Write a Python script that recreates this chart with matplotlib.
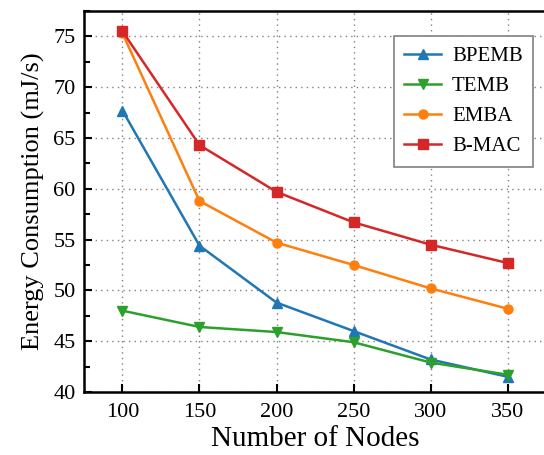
import numpy as np
import matplotlib
matplotlib.use("Agg")
import matplotlib.pyplot as plt
from matplotlib.ticker import MultipleLocator

plt.rcParams["font.family"] = ["Liberation Serif", "DejaVu Serif"]
plt.rcParams["mathtext.fontset"] = "stix"

# !Data
nodes = [100, 150, 200, 250, 300, 350]
bpemb = [67.7, 54.4, 48.8, 46.0, 43.2, 41.5]
temb = [48.0, 46.4, 45.9, 44.9, 42.9, 41.7]
emba = [75.3, 58.8, 54.7, 52.5, 50.2, 48.2]
bmac = [75.5, 64.3, 59.7, 56.7, 54.5, 52.7]

series = [
    ("BPEMB", bpemb, "#1f77b4", "^"),
    ("TEMB", temb, "#2ca02c", "v"),
    ("EMBA", emba, "#ff7f0e", "o"),
    ("B-MAC", bmac, "#d62728", "s"),
]

fig = plt.figure(figsize=(5.44, 4.55), dpi=100)
ax = fig.add_axes([0.1544, 0.1385, 0.8493, 0.8373])

for name, vals, color, marker in series:
    ax.plot(nodes, vals, color=color, marker=marker, markersize=6.5, linewidth=1.8, label=name)

ax.set_xlim(75, 375)
ax.set_ylim(40, 77.5)
ax.set_xticks(nodes)
ax.yaxis.set_major_locator(MultipleLocator(5))
ax.yaxis.set_minor_locator(MultipleLocator(2.5))
ax.tick_params(which="both", direction="in", labelsize=16, width=1.5)
ax.tick_params(which="major", length=6)
ax.tick_params(which="minor", length=4)
ax.tick_params(axis="x", pad=8)
ax.tick_params(axis="y", pad=6)
for s in ax.spines.values():
    s.set_linewidth(1.8)

ax.grid(True, which="major", linestyle=(0, (1, 3)), color="gray", linewidth=1.0)

ax.set_xlabel("Number of Nodes", fontsize=21, labelpad=3)
ax.set_ylabel("Energy Consumption (mJ/s)", fontsize=19, labelpad=6)

leg = ax.legend(loc="upper right", bbox_to_anchor=(0.972, 0.934), borderaxespad=0, fontsize=15,
                fancybox=False, edgecolor="gray", framealpha=1, handlelength=1.8,
                borderpad=0.5, labelspacing=0.5, handletextpad=0.5)
leg.get_frame().set_linewidth(1.2)

fig.savefig("out.png", dpi=100)
